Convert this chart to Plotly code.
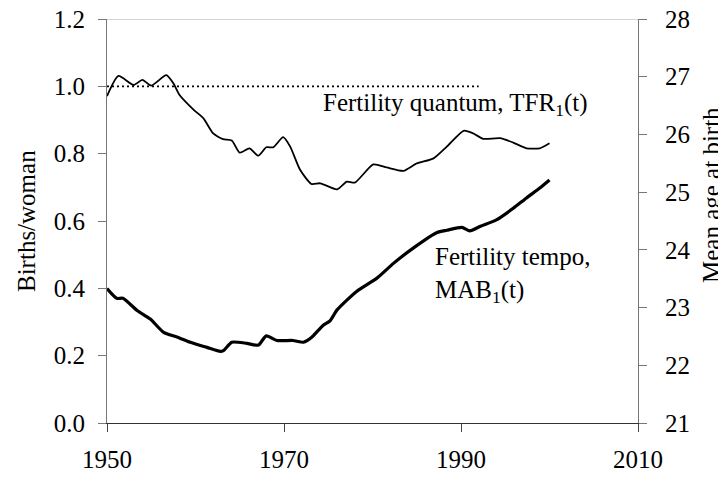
import plotly.graph_objects as go

# Fertility quantum TFR1(t) (left axis, births/woman)
tfr_years = [1950.0, 1951.3, 1953.0, 1954.0, 1955.0, 1956.7, 1957.5, 1958.2, 1959.8, 1960.9,
             1962.0, 1963.1, 1964.1, 1965.0, 1966.1, 1967.1, 1968.0, 1968.8, 1969.9, 1970.7,
             1971.8, 1973.1, 1974.1, 1976.0, 1977.1, 1978.0, 1980.1, 1981.6, 1983.5, 1985.0,
             1986.9, 1988.4, 1990.3, 1991.4, 1992.5, 1994.4, 1995.9, 1997.4, 1998.9, 2000.0]
tfr_values = [0.971, 1.031, 1.004, 1.019, 1.002, 1.033, 1.009, 0.974, 0.930, 0.905,
              0.860, 0.843, 0.839, 0.803, 0.816, 0.794, 0.819, 0.819, 0.849, 0.821,
              0.753, 0.710, 0.712, 0.694, 0.717, 0.714, 0.768, 0.759, 0.749, 0.771,
              0.786, 0.821, 0.868, 0.860, 0.844, 0.846, 0.833, 0.816, 0.816, 0.831]

# Fertility tempo MAB1(t) (right axis, mean age at birth)
mab_years = [1950.0, 1951.1, 1951.8, 1953.4, 1954.9, 1956.4, 1957.9, 1959.4, 1961.3, 1962.8,
             1963.2, 1964.1, 1965.8, 1967.1, 1968.0, 1969.2, 1971.0, 1972.2, 1973.1, 1974.4,
             1975.2, 1976.0, 1978.2, 1980.5, 1982.4, 1984.6, 1987.3, 1988.4, 1990.1, 1991.0,
             1992.2, 1994.0, 1995.9, 1997.4, 1998.9, 2000.0]
mab_values = [23.33, 23.16, 23.16, 22.95, 22.80, 22.57, 22.49, 22.40, 22.31, 22.24,
              22.26, 22.40, 22.38, 22.35, 22.51, 22.43, 22.43, 22.40, 22.48, 22.69,
              22.77, 22.96, 23.28, 23.51, 23.77, 24.03, 24.30, 24.34, 24.39, 24.33,
              24.41, 24.52, 24.72, 24.90, 25.07, 25.21]

# Reference level (replacement quantum = 1.0)
ref_years = [1950, 1992]
ref_values = [1.0, 1.0]

x_ticks = [1950, 1970, 1990, 2010]
left_ticks = [0.0, 0.2, 0.4, 0.6, 0.8, 1.0, 1.2]
right_ticks = [21, 22, 23, 24, 25, 26, 27, 28]

FONT = "Liberation Serif, Times New Roman, serif"
FS = 25
TF = dict(family=FONT, size=FS, color="black")

fig = go.Figure()
fig.add_trace(go.Scatter(x=ref_years, y=ref_values, mode="lines",
                         line=dict(color="black", width=1.6, dash="2px,3px"),
                         showlegend=False, hoverinfo="skip"))
fig.add_trace(go.Scatter(x=tfr_years, y=tfr_values, mode="lines",
                         line=dict(color="black", width=1.8, shape="spline", smoothing=0.6),
                         showlegend=False))
fig.add_trace(go.Scatter(x=mab_years, y=mab_values, mode="lines", yaxis="y2",
                         line=dict(color="black", width=3.2, shape="spline", smoothing=0.6),
                         showlegend=False))

fig.update_layout(
    width=718, height=473,
    margin=dict(l=99, r=88, t=11, b=58, autoexpand=False),
    paper_bgcolor="white", plot_bgcolor="white",
    font=TF,
    xaxis=dict(range=[1950, 2010], tickvals=x_ticks, ticks="outside", ticklen=8,
               tickcolor="#444", showline=True, linecolor="#333", linewidth=1,
               showgrid=False, zeroline=False, ticklabelstandoff=6, tickfont=TF,
               automargin=False, ticklabeloverflow="allow"),
    yaxis=dict(range=[0, 1.2], tickvals=left_ticks, tickformat=".1f", ticks="outside",
               ticklen=8, tickcolor="#777", showline=True, linecolor="#777", linewidth=1,
               showgrid=False, zeroline=False, ticklabelstandoff=8, tickfont=TF,
               automargin=False, ticklabeloverflow="allow"),
    yaxis2=dict(range=[21, 28], tickvals=right_ticks, overlaying="y", side="right",
                ticks="outside", ticklen=8, tickcolor="#777", showline=True,
                linecolor="#777", linewidth=1, showgrid=False, zeroline=False,
                ticklabelstandoff=13, tickfont=TF, automargin=False,
                ticklabeloverflow="allow"),
    shapes=[dict(type="line", xref="paper", yref="y", x0=0, x1=1, y0=1.2, y1=1.2,
                 line=dict(color="#aaa", width=1))],
    annotations=[
        dict(text="Fertility quantum, TFR<sub>1</sub>(t)", x=1974.2, y=0.945,
             xref="x", yref="y", xanchor="left", yanchor="middle", showarrow=False,
             font=TF),
        dict(text="Fertility tempo,<br>MAB<sub>1</sub>(t)", x=1986.8, y=0.44,
             xref="x", yref="y", xanchor="left", yanchor="middle", align="left",
             showarrow=False, font=TF),
        dict(text="Births/woman", x=(26 - 107) / 531, y=0.5, xref="paper", yref="paper",
             xanchor="center", yanchor="middle", textangle=-90, showarrow=False,
             font=TF),
        dict(text="Mean age at birth", x=(711 - 107) / 531, y=(423 - 195) / 404,
             xref="paper", yref="paper", xanchor="center", yanchor="middle",
             textangle=-90, showarrow=False, font=TF),
    ],
)

fig.write_html("out.html")
